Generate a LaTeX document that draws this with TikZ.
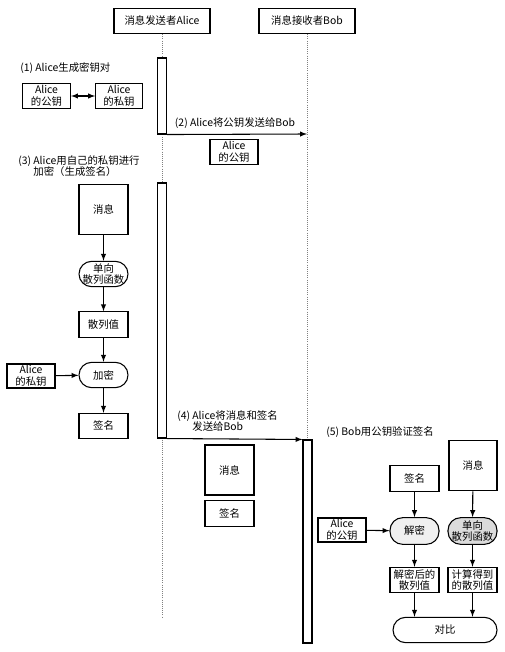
\documentclass[tikz,border=0pt]{standalone}
\usepackage{fontspec}
\setmainfont{Noto Sans CJK SC}
\usetikzlibrary{arrows}

\tikzset{
  box/.style={draw, line width=0.8pt, fill=white, minimum width=36.75pt,
    minimum height=19pt, inner sep=1pt, align=center,
    font=\fontsize{7.8}{8.8}\selectfont},
  proc/.style={box, rounded corners=9.5pt},
  note/.style={inner sep=0pt, align=left, anchor=west,
    font=\fontsize{7.8}{8.8}\selectfont},
  life/.style={densely dotted, gray, line width=0.6pt},
  act/.style={draw, line width=0.8pt, fill=white, minimum width=6.75pt,
    inner sep=0pt},
  msg/.style={-latex, line width=0.8pt},
}

\begin{document}
\begin{tikzpicture}[x=0.75pt, y=-0.75pt]
  \useasboundingbox (0, 0) rectangle (505, 652);
  %\draw[lightgray] (0, 0) grid[step=50] (505, 652);

  % lifelines
  \node[box, minimum width=72pt] (alice) at (162, 21) {消息发送者Alice};
  \node[box, minimum width=72pt] (bob) at (307, 21) {消息接收者Bob};
  \coordinate (aliceEnd) at (162, 617);
  \coordinate (bobKey) at (307, 134);
  \draw[life] (alice.south) -- (aliceEnd);
  \draw[life] (bob.south) -- (307, 440);

  % (1) key pair
  \node[act, minimum height=57pt] (act1) at (162, 96) {};
  \node[note] (step1) at (20, 68) {(1) Alice生成密钥对};
  \node[box, minimum width=36pt] (pubA) at (46.5, 96) {Alice\\的公钥};
  \node[box, minimum width=35pt] (privA) at (119, 96) {Alice\\的私钥};
  \draw[latex-latex, line width=0.8pt] (pubA) -- (privA);

  % (2) send public key
  \draw[msg] (act1.south east) -- (bobKey);
  \node[note, anchor=center] (step2) at (235, 123) {(2) Alice将公钥发送给Bob};
  \node[box, minimum width=36pt] (pubSent) at (234, 152) {Alice\\的公钥};

  % (3) sign
  \node[act, minimum height=191.25pt] (act2) at (162, 310.5) {};
  \node[note] (step3) at (18, 166.5) {(3) Alice用自己的私钥进行\\\phantom{(3) }加密（生成签名）};
  \node[box, minimum height=38pt] (msgA) at (103.5, 209.5) {消息};
  \node[proc] (hashA) at (103.5, 274) {单向\\散列函数};
  \node[box] (hashVal) at (103.5, 324.5) {散列值};
  \node[proc] (enc) at (103.5, 375) {加密};
  \node[box] (sigA) at (103.5, 426) {签名};
  \node[box, minimum width=36pt, minimum height=18pt] (privB) at (31, 376) {Alice\\的私钥};
  \draw[msg] (msgA) -- (hashA);
  \draw[msg] (hashA) -- (hashVal);
  \draw[msg] (hashVal) -- (enc);
  \draw[msg] (enc) -- (sigA);
  \draw[msg] (privB) -- (enc);

  % (4) send message and signature
  \node[act, minimum height=152.25pt] (act3) at (307.5, 541.5) {};
  \node[note] (step4) at (177, 421.5) {(4) Alice将消息和签名\\\phantom{(4) }发送给Bob};
  \draw[msg] (act2.south east) -- (act3.north west);
  \node[box, minimum height=37.5pt] (msgSent) at (229.5, 470) {消息};
  \node[box] (sigSent) at (229.5, 513.5) {签名};

  % (5) verify
  \node[note] (step5) at (326, 432) {(5) Bob用公钥验证签名};
  \node[box] (sigB) at (414.5, 478.5) {签名};
  \node[box, minimum width=36pt, minimum height=38pt] (msgB) at (473, 465.5) {消息};
  \node[box, minimum width=36pt, minimum height=18pt] (pubB) at (342, 530) {Alice\\的公钥};
  \node[proc, fill=gray!12, minimum height=20pt] (dec) at (414.5, 531) {解密};
  \node[proc, fill=gray!28, minimum height=20pt] (hashB) at (472.5, 531) {单向\\散列函数};
  \node[box] (decVal) at (414.5, 580) {解密后的\\散列值};
  \node[box] (calcVal) at (472.5, 580) {计算得到\\的散列值};
  \node[proc, minimum width=78pt] (cmp) at (445, 630) {对比};
  \draw[msg] (sigB) -- (dec);
  \draw[msg] (msgB) -- (hashB);
  \draw[msg] (pubB) -- (dec);
  \draw[msg] (dec) -- (decVal);
  \draw[msg] (hashB) -- (calcVal);
  \draw[msg] (decVal) -- (decVal |- cmp.north);
  \draw[msg] (calcVal) -- (calcVal |- cmp.north);
\end{tikzpicture}
\end{document}
